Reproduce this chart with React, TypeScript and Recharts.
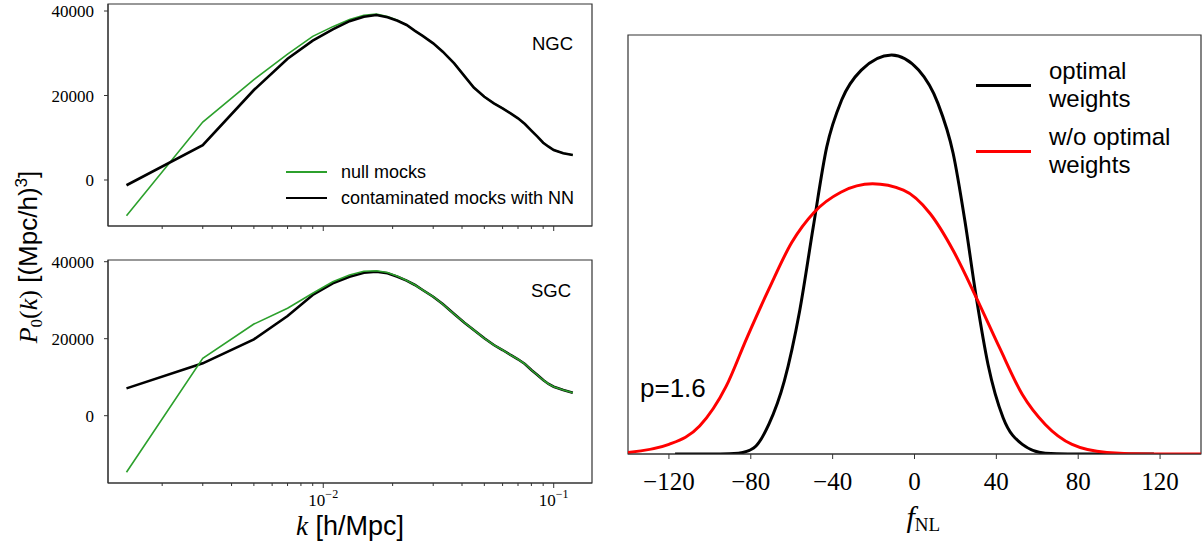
import React from 'react';
import { LineChart, Line, XAxis, YAxis, ReferenceArea, Legend, Label } from 'recharts';

// k bins [h/Mpc] shared by both caps
const K = [0.0014, 0.003, 0.005, 0.007, 0.009, 0.011, 0.013, 0.015, 0.017, 0.019, 0.021, 0.023, 0.025, 0.027, 0.03, 0.033, 0.037, 0.041, 0.045, 0.05, 0.055, 0.06, 0.065, 0.07, 0.075, 0.08, 0.085, 0.09, 0.095, 0.1, 0.11, 0.121];

const NGC_NULL = [-8470, 13700, 23760, 29800, 34000, 36300, 38000, 39000, 39300, 38700, 37800, 36700, 35300, 34100, 32350, 30370, 27600, 24600, 21900, 19700, 18150, 16970, 15780, 14600, 13250, 11670, 10250, 8830, 7880, 7100, 6320, 5920];
const NGC_NN = [-1250, 8240, 21300, 28700, 33000, 35650, 37600, 38650, 39050, 38500, 37700, 36700, 35300, 34100, 32350, 30370, 27600, 24600, 21900, 19700, 18150, 16970, 15780, 14600, 13250, 11670, 10250, 8830, 7880, 7100, 6320, 5920];

const SGC_NULL = [-14700, 14900, 23800, 27900, 31800, 34800, 36550, 37500, 37660, 37200, 36200, 35100, 33950, 32650, 30900, 29000, 26400, 24150, 22260, 20100, 18360, 17060, 15770, 14650, 13430, 11870, 10570, 9270, 8230, 7530, 6680, 5970];
const SGC_NN = [7100, 13600, 19840, 25900, 31350, 34400, 36100, 37150, 37400, 37000, 36100, 35070, 33950, 32650, 30900, 29000, 26400, 24150, 22260, 20100, 18360, 17060, 15770, 14650, 13430, 11870, 10570, 9270, 8230, 7530, 6680, 5970];

const K_TICKS = [0.002, 0.003, 0.004, 0.005, 0.006, 0.007, 0.008, 0.009, 0.01, 0.02, 0.03, 0.04, 0.05, 0.06, 0.07, 0.08, 0.09, 0.1];
const P_TICKS = [0, 20000, 40000];

// fNL posteriors (arbitrary units, peak of optimal = 1)
const FNL_OPT = [-117, -95, -86, -78.6, -71.2, -63.6, -56.1, -49.5, -42.9, -35.6, -26, -11.2, 2, 11.5, 18.9, 24.6, 30.2, 35.9, 43.3, 52.7, 63.9, 75, 95, 117];
const DENS_OPT = [0, 0, 0.002, 0.015, 0.074, 0.183, 0.359, 0.568, 0.769, 0.887, 0.962, 1.0, 0.962, 0.878, 0.753, 0.585, 0.392, 0.225, 0.091, 0.024, 0.002, 0, 0, 0];
const FNL_NOOPT = [-140, -120, -105, -92, -82, -71, -60, -49, -36, -20.5, -5.4, 7.7, 18.9, 30.2, 41.5, 52.7, 63.9, 77, 94, 115, 140];
const DENS_NOOPT = [0.004, 0.024, 0.07, 0.17, 0.29, 0.415, 0.53, 0.606, 0.656, 0.677, 0.661, 0.602, 0.51, 0.392, 0.267, 0.149, 0.074, 0.024, 0.004, 0, 0];
const FNL_TICKS = [-120, -80, -40, 0, 40, 80, 120];

const SANS = '"Liberation Sans", Arial, sans-serif';
const SERIF = '"Liberation Serif", "Times New Roman", serif';
const SPINE = '#333';

const pkRows = K.map((k, i) => ({
  k,
  ngcNull: NGC_NULL[i],
  ngcNN: NGC_NN[i],
  sgcNull: SGC_NULL[i],
  sgcNN: SGC_NN[i],
}));
const optRows = FNL_OPT.map((f, i) => ({ f, d: DENS_OPT[i] }));
const noOptRows = FNL_NOOPT.map((f, i) => ({ f, d: DENS_NOOPT[i] }));

const K_DOMAIN: [number, number] = [0.001164, 0.1466];
const PK_LEGEND_ORDER = ['null mocks', 'contaminated mocks with NN'];

function LogTick(props: any) {
  const { x, y, payload, showLabel } = props;
  const lg = Math.log10(payload.value);
  const major = Math.abs(lg - Math.round(lg)) < 1e-6;
  return (
    <g>
      <line x1={x} x2={x} y1={y} y2={y + (major ? 5 : 3)} stroke={SPINE} strokeWidth={1} />
      {showLabel && major && (
        <text x={x} y={y + 23} textAnchor="middle" fontFamily={SERIF} fontSize={17} fill="#000">
          10
          <tspan dy={-8} fontSize={12}>
            {'\u2212' + -Math.round(lg)}
          </tspan>
        </text>
      )}
    </g>
  );
}

function PTick(props: any) {
  const { x, y, payload } = props;
  return (
    <g>
      <line x1={x} x2={x - 4} y1={y} y2={y} stroke={SPINE} strokeWidth={1} />
      <text x={x - 14} y={y + 6} textAnchor="end" fontFamily={SERIF} fontSize={17} fill="#000">
        {payload.value}
      </text>
    </g>
  );
}

function PkLegend({ payload }: any) {
  const items = [...(payload || [])].sort(
    (a: any, b: any) => PK_LEGEND_ORDER.indexOf(a.value) - PK_LEGEND_ORDER.indexOf(b.value)
  );
  return (
    <div style={{ fontFamily: SANS, fontSize: 18, color: '#000' }}>
      {items.map((p: any) => (
        <div key={p.value} style={{ display: 'flex', alignItems: 'center', height: 26 }}>
          <span
            style={{
              display: 'inline-block',
              width: 41,
              height: p.payload.strokeWidth,
              background: p.color,
              marginRight: 14,
            }}
          />
          <span>{p.value}</span>
        </div>
      ))}
    </div>
  );
}

function FnlLegend({ payload }: any) {
  return (
    <div style={{ fontFamily: SANS, fontSize: 24, color: '#000', lineHeight: '28px' }}>
      {(payload || []).map((p: any) => (
        <div key={p.value} style={{ display: 'flex', alignItems: 'center', marginBottom: 10 }}>
          <span
            style={{ display: 'inline-block', width: 55, height: 3, background: p.color, marginRight: 18 }}
          />
          <span style={{ whiteSpace: 'pre-line' }}>{p.value}</span>
        </div>
      ))}
    </div>
  );
}

function PkPanel(props: {
  nullKey: string;
  nnKey: string;
  yDomain: [number, number];
  nullOnTop: boolean;
  bottom: boolean;
  height: number;
  marginTop: number;
  legend: boolean;
}) {
  const { nullKey, nnKey, yDomain, nullOnTop, bottom, height, marginTop, legend } = props;
  const nullLine = (
    <Line
      key="null"
      dataKey={nullKey}
      name="null mocks"
      stroke="#2ca02c"
      strokeWidth={1.6}
      dot={false}
      activeDot={false}
      type="linear"
      isAnimationActive={false}
    />
  );
  const nnLine = (
    <Line
      key="nn"
      dataKey={nnKey}
      name="contaminated mocks with NN"
      stroke="#000"
      strokeWidth={2.6}
      dot={false}
      activeDot={false}
      type="linear"
      isAnimationActive={false}
    />
  );
  return (
    <LineChart
      width={600}
      height={height}
      data={pkRows}
      margin={{ top: marginTop, right: 8, left: 48, bottom: 0 }}
    >
      <XAxis
        dataKey="k"
        type="number"
        scale="log"
        domain={K_DOMAIN}
        allowDataOverflow
        ticks={K_TICKS}
        interval={0}
        height={bottom ? 62 : 14}
        stroke={SPINE}
        tickSize={0}
        tickMargin={0}
        tick={(p: any) => <LogTick {...p} showLabel={bottom} />}
      >
        {bottom && (
          <Label
            content={({ viewBox }: any) => (
              <text
                x={viewBox.x + viewBox.width / 2}
                y={viewBox.y + 52}
                textAnchor="middle"
                fontSize={27}
                fill="#000"
              >
                <tspan fontFamily={SERIF} fontStyle="italic">k</tspan>
                <tspan fontFamily={SANS}> [h/Mpc]</tspan>
              </text>
            )}
          />
        )}
      </XAxis>
      <YAxis
        type="number"
        domain={yDomain}
        allowDataOverflow
        ticks={P_TICKS}
        interval={0}
        width={60}
        stroke={SPINE}
        tickSize={0}
        tickMargin={0}
        tick={(p: any) => <PTick {...p} />}
      />
      <ReferenceArea
        x1={K_DOMAIN[0]}
        x2={K_DOMAIN[1]}
        y1={yDomain[0]}
        y2={yDomain[1]}
        fill="none"
        stroke={SPINE}
        strokeWidth={1.2}
      />
      {nullOnTop ? [nnLine, nullLine] : [nullLine, nnLine]}
      {legend && (
        <Legend
          layout="horizontal"
          verticalAlign="middle"
          align="center"
          content={<PkLegend />}
          wrapperStyle={{ position: 'absolute', left: 286, top: 159, width: 300, height: 52 }}
        />
      )}
    </LineChart>
  );
}

export default function App() {
  return (
    <div style={{ position: 'absolute', left: 0, top: 0, width: 1202, height: 545, background: '#fff' }}>
      <div style={{ position: 'absolute', left: 0, top: 0 }}>
        <PkPanel
          nullKey="ngcNull"
          nnKey="ngcNN"
          yDomain={[-10890, 41660]}
          nullOnTop={false}
          bottom={false}
          height={240}
          marginTop={4}
          legend
        />
      </div>
      <div style={{ position: 'absolute', left: 0, top: 250 }}>
        <PkPanel
          nullKey="sgcNull"
          nnKey="sgcNN"
          yDomain={[-17480, 40440]}
          nullOnTop
          bottom
          height={295}
          marginTop={10}
          legend={false}
        />
      </div>
      <div style={{ position: 'absolute', left: 531, top: 33, width: 42, textAlign: 'right', fontFamily: SANS, fontSize: 18.5 }}>
        NGC
      </div>
      <div style={{ position: 'absolute', left: 521, top: 280, width: 50, textAlign: 'right', fontFamily: SANS, fontSize: 18.5 }}>
        SGC
      </div>
      <svg style={{ position: 'absolute', left: 0, top: 0, pointerEvents: 'none' }} width={60} height={545}>
        <text
          x={37}
          y={257}
          transform="rotate(-90 37 257)"
          textAnchor="middle"
          fontSize={26}
          fill="#000"
        >
          <tspan fontFamily={SERIF} fontStyle="italic">P</tspan>
          <tspan fontFamily={SERIF} fontSize={17} dy={5}>0</tspan>
          <tspan fontFamily={SERIF} dy={-5}>(</tspan>
          <tspan fontFamily={SERIF} fontStyle="italic">k</tspan>
          <tspan fontFamily={SERIF}>)</tspan>
          <tspan fontFamily={SANS}> [(Mpc/h)</tspan>
          <tspan fontFamily={SANS} fontSize={17} dy={-10}>3</tspan>
          <tspan fontFamily={SANS} dy={10}>]</tspan>
        </text>
      </svg>

      <div style={{ position: 'absolute', left: 600, top: 0 }}>
        <LineChart width={602} height={545} margin={{ top: 35, right: 1, left: 28, bottom: 0 }}>
          <XAxis
            dataKey="f"
            type="number"
            domain={[-140, 140]}
            allowDataOverflow
            ticks={FNL_TICKS}
            interval={0}
            height={91}
            stroke={SPINE}
            tickSize={5}
            tickMargin={13}
            tickFormatter={(v: number) => (v < 0 ? '\u2212' + -v : String(v))}
            tick={{ fontFamily: SERIF, fontSize: 25, fill: '#000' }}
          >
            <Label
              content={({ viewBox }: any) => (
                <text x={viewBox.x + viewBox.width / 2 - 8} y={viewBox.y + 73} fill="#000" fontFamily={SERIF}>
                  <tspan fontStyle="italic" fontSize={30}>f</tspan>
                  <tspan fontSize={19} dy={4}>NL</tspan>
                </text>
              )}
            />
          </XAxis>
          <YAxis type="number" domain={[0, 1.05]} allowDataOverflow hide />
          <ReferenceArea x1={-140} x2={140} y1={0} y2={1.05} fill="none" stroke={SPINE} strokeWidth={1.2} />
          <Line
            data={optRows}
            dataKey="d"
            name={'optimal\nweights'}
            stroke="#000"
            strokeWidth={3}
            dot={false}
            activeDot={false}
            type="monotone"
            isAnimationActive={false}
          />
          <Line
            data={noOptRows}
            dataKey="d"
            name={'w/o optimal\nweights'}
            stroke="#ff0000"
            strokeWidth={3}
            dot={false}
            activeDot={false}
            type="monotone"
            isAnimationActive={false}
          />
          <Legend
            layout="horizontal"
            verticalAlign="middle"
            align="center"
            content={<FnlLegend />}
            wrapperStyle={{ position: 'absolute', left: 376, top: 57, width: 230, height: 130 }}
          />
        </LineChart>
      </div>
      <div style={{ position: 'absolute', left: 640, top: 373, fontFamily: SANS, fontSize: 26 }}>p=1.6</div>
    </div>
  );
}
